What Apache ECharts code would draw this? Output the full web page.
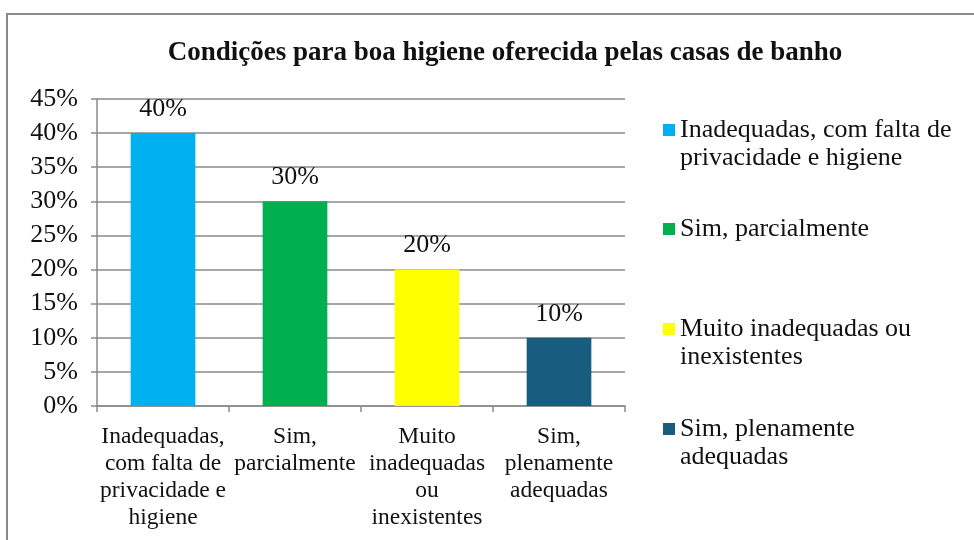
<!DOCTYPE html>
<html>
<head>
<meta charset="utf-8">
<script src="https://cdn.jsdelivr.net/npm/echarts@6/dist/echarts.min.js"></script>
<style>
  html, body { margin: 0; padding: 0; background: #fff; }
  #chart { width: 974px; height: 540px; }
</style>
</head>
<body>
<div id="chart"></div>
<script>
// dados do gráfico
const categories = ['Inadequadas, com falta de privacidade e higiene', 'Sim, parcialmente', 'Muito inadequadas ou inexistentes', 'Sim, plenamente adequadas']
const axisLabels = ['Inadequadas,\ncom falta de\nprivacidade e\nhigiene', 'Sim,\nparcialmente', 'Muito\ninadequadas\nou\ninexistentes', 'Sim,\nplenamente\nadequadas']
const legendLabels = ['\nInadequadas, com falta de\nprivacidade e higiene', 'Sim, parcialmente', '\nMuito inadequadas ou\ninexistentes', '\nSim, plenamente\nadequadas']
const values = [40, 30, 20, 10]
const colors = ['#00B0F0', '#00B050', '#FFFF00', '#185D80']
const yTicks = [0, 45, 5]

const serif = '"Liberation Serif", "Times New Roman", serif'
const gridColor = '#8a8a8a'

const chart = echarts.init(document.getElementById('chart'))

// uma série por categoria, empilhadas para ficarem centradas
const series = categories.map((name, i) => ({
  name,
  type: 'bar',
  stack: 'total',
  barWidth: '49%',
  itemStyle: { color: colors[i] },
  label: {
    show: true,
    position: 'top',
    distance: 11,
    formatter: '{c}%',
    fontFamily: serif,
    fontSize: 26,
    color: '#111'
  },
  data: values.map((v, j) => (j === i ? v : '-'))
}))

// ícone alinhado com a primeira linha (linha vazia antes do texto)
const legendTops = [88, 215, 287, 387]
const legends = categories.map((name, i) => ({
  data: [name],
  orient: 'vertical',
  left: 663,
  top: legendTops[i],
  padding: 0,
  icon: 'rect',
  itemWidth: 12,
  itemHeight: 12,
  itemGap: 0,
  selectedMode: false,
  formatter: () => legendLabels[i],
  textStyle: { fontFamily: serif, fontSize: 26, lineHeight: 28, color: '#111' }
}))

const option = {
  animation: false,
  title: {
    text: 'Condições para boa higiene oferecida pelas casas de banho',
    left: 500,
    textAlign: 'center',
    top: 35,
    textStyle: { fontFamily: serif, fontSize: 27, fontWeight: 'bold', color: '#111' }
  },
  legend: legends,
  grid: { left: 97, right: 349, top: 99, bottom: 134 },
  xAxis: {
    type: 'category',
    data: categories,
    axisLine: { lineStyle: { color: gridColor, width: 1.5 } },
    axisTick: { show: true, length: 6, lineStyle: { color: gridColor, width: 1.5 } },
    axisLabel: {
      interval: 0,
      margin: 17,
      formatter: (v, i) => axisLabels[i],
      fontFamily: serif,
      fontSize: 23.5,
      lineHeight: 27,
      color: '#111'
    }
  },
  yAxis: {
    type: 'value',
    min: yTicks[0],
    max: yTicks[1],
    interval: yTicks[2],
    axisLine: { show: true, lineStyle: { color: gridColor, width: 1.5 } },
    axisTick: { show: true, length: 6, lineStyle: { color: gridColor, width: 1.5 } },
    splitLine: { lineStyle: { color: gridColor, width: 1.5 } },
    axisLabel: {
      formatter: '{value}%',
      margin: 19,
      fontFamily: serif,
      fontSize: 26,
      color: '#111'
    }
  },
  graphic: [{
    type: 'rect',
    shape: { x: 7, y: 14, width: 1100, height: 700 },
    style: { fill: 'none', stroke: '#8a8a8a', lineWidth: 2 },
    silent: true
  }],
  series
}

chart.setOption(option)
window.addEventListener('resize', () => chart.resize())
</script>
</body>
</html>
